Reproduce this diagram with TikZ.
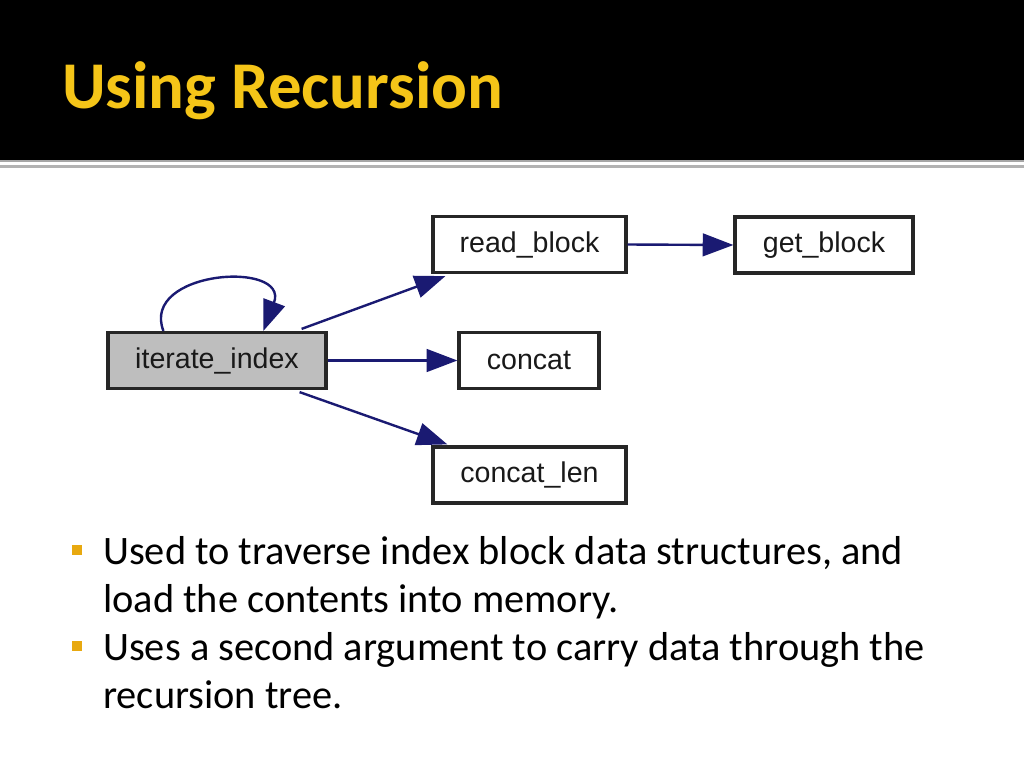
\documentclass[tikz,border=0pt]{standalone}
\usepackage{fontspec}
\setmainfont{Carlito}
\newfontfamily\nodefont{Liberation Sans}
\usetikzlibrary{arrows.meta,calc}
\definecolor{navy}{HTML}{1A1A72}
\definecolor{titleyellow}{HTML}{F5C518}
\definecolor{bulletyellow}{HTML}{E8A910}
\definecolor{boxgray}{HTML}{BEBEBE}
\tikzset{
  fn/.style={draw=black!85, line width=2.4bp, fill=white, minimum height=42bp, inner sep=0pt, font=\nodefont\fontsize{21.5}{25}\selectfont, text=black!90},
  call/.style={draw=navy, line width=1.8bp, -{Triangle[length=23bp,width=17bp]}},
  bullet/.style={fill=bulletyellow, minimum size=8bp, inner sep=0pt},
  btext/.style={anchor=base west, font=\fontsize{30.4}{36}\selectfont, text=black, inner sep=0pt}
}
\begin{document}
\begin{tikzpicture}[x=0.75bp,y=-0.75bp]
\useasboundingbox (0,0) rectangle (1024,768);
\fill[white] (0,0) rectangle (1024,768);
\fill[black] (0,0) rectangle (1024,160);
\fill[gray!70] (0,160) rectangle (1024,162);
\fill[gray!60] (0,165) rectangle (1024,167.5);
\node[anchor=base west, inner sep=0pt, text=titleyellow, font=\bfseries\fontsize{50.3}{58}\selectfont] (title) at (62,108) {Using Recursion};

\node[fn, fill=boxgray, minimum width=163.5bp] (it) at (217,360.5) {iterate\_index};
\node[fn, minimum width=144.75bp] (rb) at (529.5,244.5) {read\_block};
\node[fn, minimum width=133.5bp] (gb) at (824,245) {get\_block};
\node[fn, minimum width=105bp] (cc) at (529,360.5) {concat};
\node[fn, minimum width=144.75bp] (cl) at (529.5,475) {concat\_len};

\draw[call] ($(it.north west)+(57,0)$)
  .. controls (140,270) and (290,260) .. ($(it.north west)+(157,0)$);
\draw[call] ($(it.north east)+(-26,-2)$) -- ($(rb.south west)+(14,2)$);
\draw[call] (it.east) -- (cc.west);
\draw[call] ($(it.south east)+(-28,2)$) -- ($(cl.north west)+(16,-1)$);
\draw[call] (rb.east) -- (gb.west);

\node[bullet] (b1) at (77,550) {};
\node[bullet] (b2) at (77,646) {};
\node[btext] (t1) at (103,564) {Used to traverse index block data structures, and};
\node[btext] (t2) at (103,612) {load the contents into memory.};
\node[btext] (t3) at (103,660) {Uses a second argument to carry data through the};
\node[btext] (t4) at (103,708) {recursion tree.};
\end{tikzpicture}
\end{document}
